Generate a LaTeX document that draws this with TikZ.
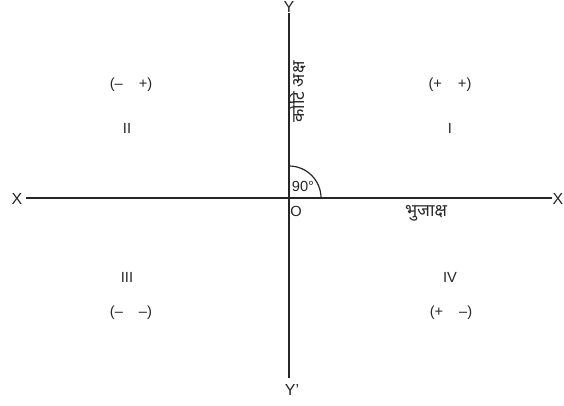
\documentclass[tikz,border=0pt]{standalone}
\usepackage{fontspec}
\setmainfont{Liberation Sans}
\newfontfamily\devfont[Script=Devanagari]{Noto Sans}
\begin{document}
\begin{tikzpicture}[x=0.75pt,y=-0.75pt,
  lbl/.style={font=\fontsize{11}{13}\selectfont, text=black!85, inner sep=0pt},
  axlbl/.style={font=\fontsize{12}{14}\selectfont, text=black!85, inner sep=0pt},
  dev/.style={font=\devfont\fontsize{13}{15}\selectfont, text=black!85, inner sep=0pt},
  axis/.style={line width=1.1pt, black!85}]
\useasboundingbox (0,0) rectangle (564,405);
\coordinate (O) at (289,198);
\coordinate (xl) at (26,198);
\coordinate (xr) at (552,198);
\coordinate (yt) at (289,13);
\coordinate (yb) at (289,378);
\draw[axis] (xl) -- (xr);
\draw[axis] (yt) -- (yb);
\draw[line width=0.9pt, black!85] ([xshift=32*0.75pt]O) arc[start angle=0,end angle=90,radius=24pt];
\node[axlbl] (X1) at (17,199) {X};
\node[axlbl] (X2) at (558,199) {X};
\node[axlbl] (Y1) at (289,7) {Y};
\node[axlbl] (Y2) at (292,390) {Y'};
\node[lbl] (ang) at (303,186) {90°};
\node[lbl] (o) at (296,211) {O};
\node[dev, rotate=90] (kot) at (297,92) {कोटि अक्ष};
\node[dev] (bhuj) at (426,213) {भुजाक्ष};
\node[lbl] (q2s) at (131,85) {(–\hspace{12pt}+)};
\node[lbl] (q2) at (127,128) {II};
\node[lbl] (q1s) at (450,85) {(+\hspace{12pt}+)};
\node[lbl] (q1) at (450,128) {I};
\node[lbl] (q3) at (127,277) {III};
\node[lbl] (q3s) at (131,313) {(–\hspace{12pt}–)};
\node[lbl] (q4) at (450,277) {IV};
\node[lbl] (q4s) at (451,313) {(+\hspace{12pt}–)};
\end{tikzpicture}
\end{document}
